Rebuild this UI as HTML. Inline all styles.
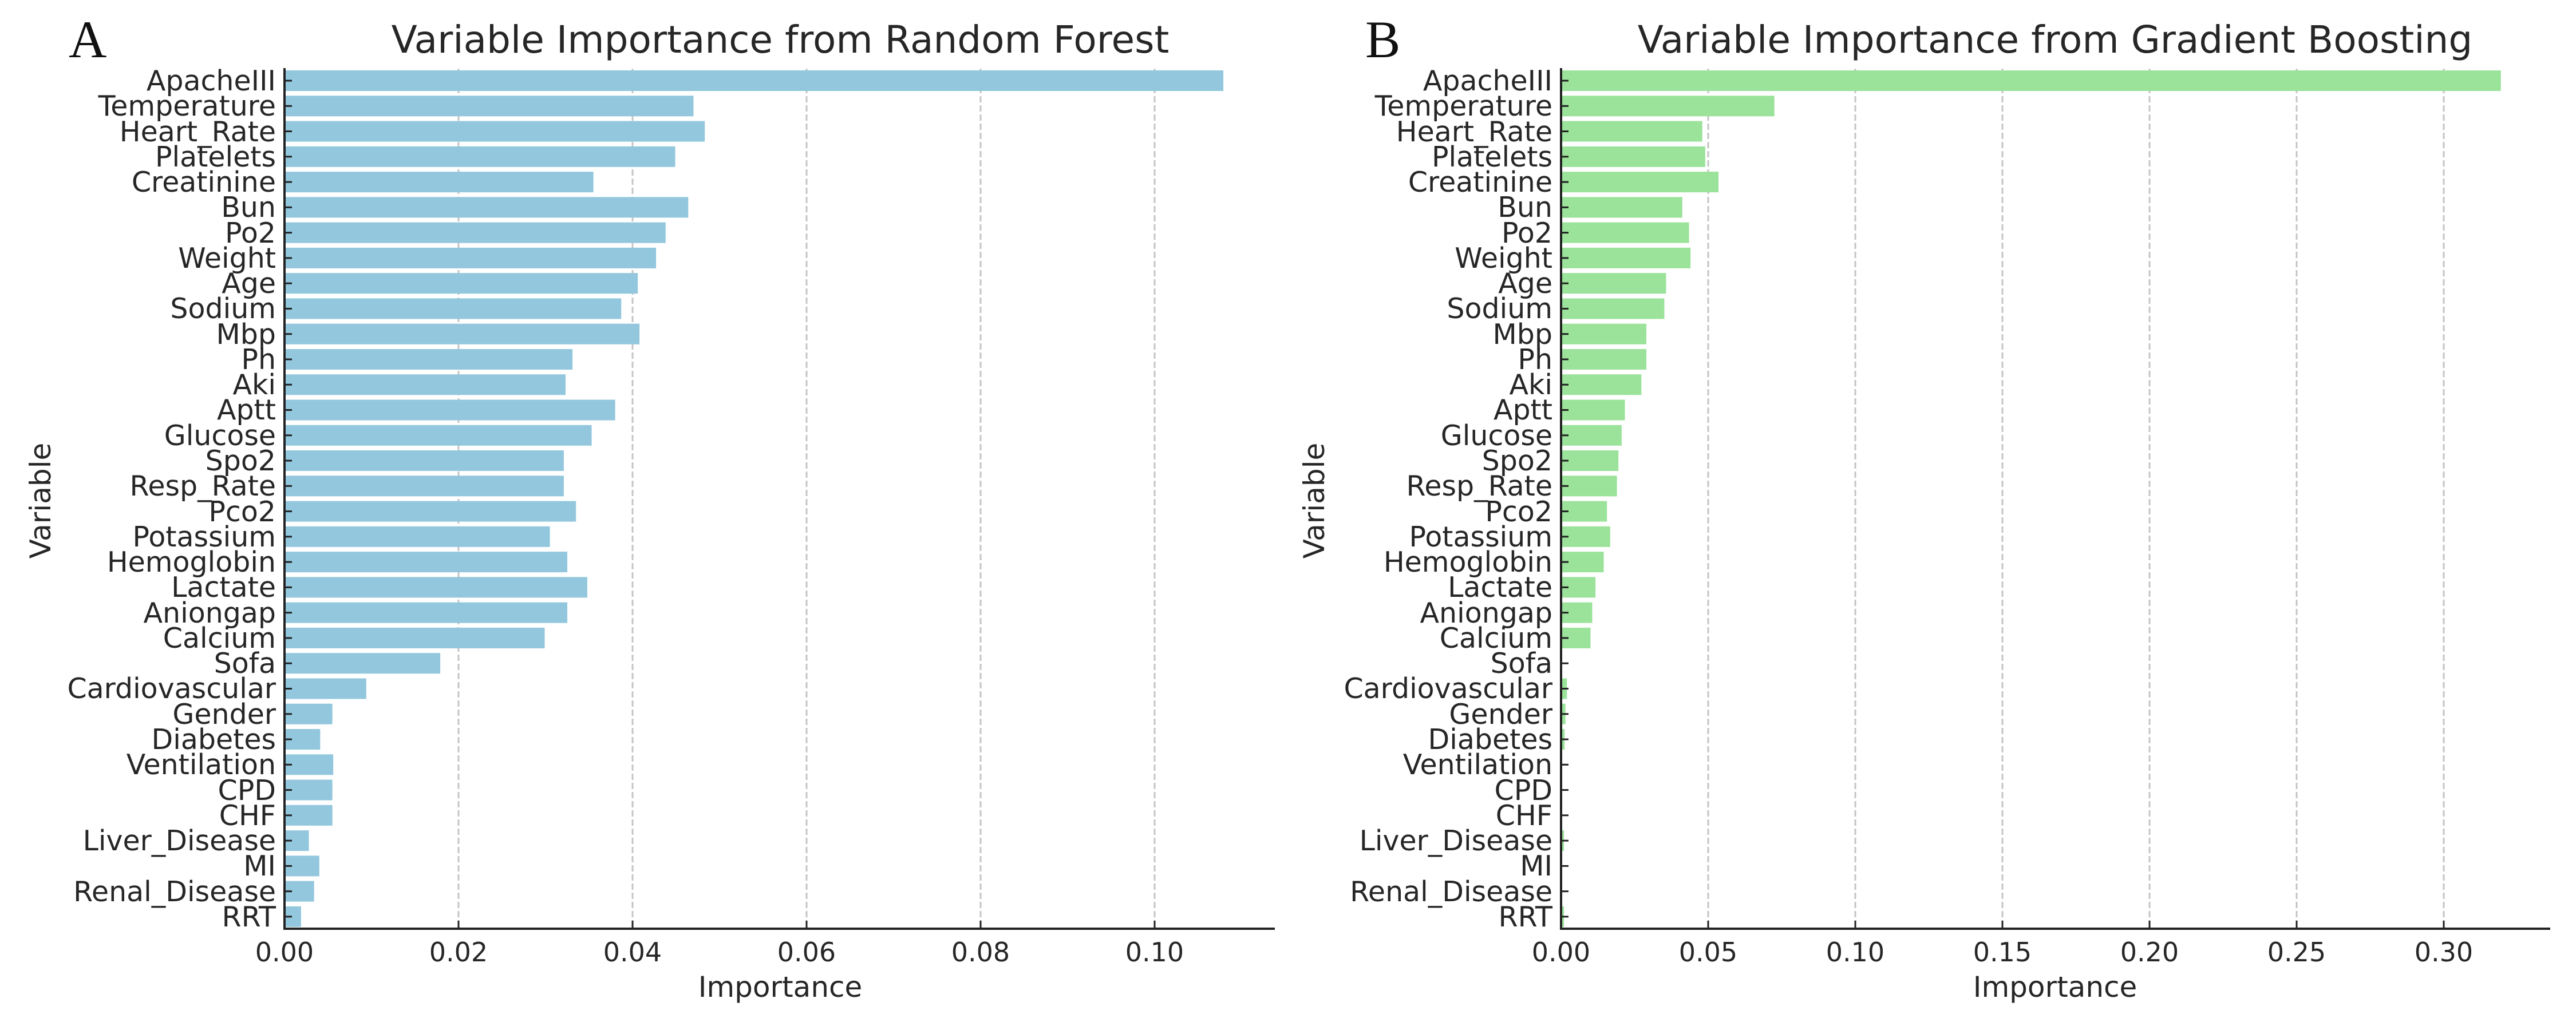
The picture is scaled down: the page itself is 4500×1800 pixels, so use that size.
<!DOCTYPE html>
<html><head><meta charset="utf-8"><style>
html,body{margin:0;padding:0;background:#fff;width:4500px;height:1800px;overflow:hidden}
svg{display:block}
text{font-family:"DejaVu Sans","Liberation Sans",sans-serif;fill:#262626}
.yl{font-size:49px;text-anchor:end}
.xl{font-size:46px;text-anchor:middle}
.t{font-size:66px;text-anchor:middle}
.al{font-size:50px;text-anchor:middle}
.p{font-family:"Liberation Serif","DejaVu Serif",serif;font-size:92px;fill:#111}
</style></head><body>
<svg id="s" width="4500" height="1800" viewBox="0 0 4500 1800" xmlns="http://www.w3.org/2000/svg">
<g id="grid"></g><g id="bars"></g><g id="axes"></g>
<text class="p" x="120" y="100">A</text>
<text class="p" x="2385" y="100">B</text>
<text class="t" x="1363" y="92">Variable Importance from Random Forest</text>
<text class="t" x="3590" y="92">Variable Importance from Gradient Boosting</text>
<text class="al" x="1363" y="1742">Importance</text>
<text class="al" x="3590" y="1742">Importance</text>
<text class="al" transform="translate(88,875) rotate(-90)" x="0" y="0">Variable</text>
<text class="al" transform="translate(2313,875) rotate(-90)" x="0" y="0">Variable</text>
<g transform="translate(0,1680)">
<text class="xl" x="497">0.00</text><text class="xl" x="801">0.02</text><text class="xl" x="1105">0.04</text><text class="xl" x="1409">0.06</text><text class="xl" x="1713">0.08</text><text class="xl" x="2017">0.10</text>
<text class="xl" x="2727">0.00</text><text class="xl" x="2984">0.05</text><text class="xl" x="3241">0.10</text><text class="xl" x="3498">0.15</text><text class="xl" x="3755">0.20</text><text class="xl" x="4012">0.25</text><text class="xl" x="4269">0.30</text>
</g>
<g transform="translate(482,17)">
<text class="yl" y="141">ApacheIII</text><text class="yl" y="185">Temperature</text><text class="yl" y="230">Heart_Rate</text><text class="yl" y="274">Platelets</text><text class="yl" y="318">Creatinine</text><text class="yl" y="362">Bun</text><text class="yl" y="407">Po2</text><text class="yl" y="451">Weight</text><text class="yl" y="495">Age</text><text class="yl" y="539">Sodium</text><text class="yl" y="584">Mbp</text><text class="yl" y="628">Ph</text><text class="yl" y="672">Aki</text><text class="yl" y="716">Aptt</text><text class="yl" y="761">Glucose</text><text class="yl" y="805">Spo2</text><text class="yl" y="849">Resp_Rate</text><text class="yl" y="894">Pco2</text><text class="yl" y="938">Potassium</text><text class="yl" y="982">Hemoglobin</text><text class="yl" y="1026">Lactate</text><text class="yl" y="1071">Aniongap</text><text class="yl" y="1115">Calcium</text><text class="yl" y="1159">Sofa</text><text class="yl" y="1203">Cardiovascular</text><text class="yl" y="1248">Gender</text><text class="yl" y="1292">Diabetes</text><text class="yl" y="1336">Ventilation</text><text class="yl" y="1381">CPD</text><text class="yl" y="1425">CHF</text><text class="yl" y="1469">Liver_Disease</text><text class="yl" y="1513">MI</text><text class="yl" y="1558">Renal_Disease</text><text class="yl" y="1602">RRT</text>
</g>
<g transform="translate(2712,17)">
<text class="yl" y="141">ApacheIII</text><text class="yl" y="185">Temperature</text><text class="yl" y="230">Heart_Rate</text><text class="yl" y="274">Platelets</text><text class="yl" y="318">Creatinine</text><text class="yl" y="362">Bun</text><text class="yl" y="407">Po2</text><text class="yl" y="451">Weight</text><text class="yl" y="495">Age</text><text class="yl" y="539">Sodium</text><text class="yl" y="584">Mbp</text><text class="yl" y="628">Ph</text><text class="yl" y="672">Aki</text><text class="yl" y="716">Aptt</text><text class="yl" y="761">Glucose</text><text class="yl" y="805">Spo2</text><text class="yl" y="849">Resp_Rate</text><text class="yl" y="894">Pco2</text><text class="yl" y="938">Potassium</text><text class="yl" y="982">Hemoglobin</text><text class="yl" y="1026">Lactate</text><text class="yl" y="1071">Aniongap</text><text class="yl" y="1115">Calcium</text><text class="yl" y="1159">Sofa</text><text class="yl" y="1203">Cardiovascular</text><text class="yl" y="1248">Gender</text><text class="yl" y="1292">Diabetes</text><text class="yl" y="1336">Ventilation</text><text class="yl" y="1381">CPD</text><text class="yl" y="1425">CHF</text><text class="yl" y="1469">Liver_Disease</text><text class="yl" y="1513">MI</text><text class="yl" y="1558">Renal_Disease</text><text class="yl" y="1602">RRT</text>
</g>
</svg>
<script>
var NS="http://www.w3.org/2000/svg";
function el(p,t,a){var e=document.createElementNS(NS,t);for(var k in a)e.setAttribute(k,a[k]);document.getElementById(p).appendChild(e);}
var rf=[0.1079,0.047,0.0483,0.0449,0.0355,0.0464,0.0438,0.0427,0.0406,0.0387,0.0408,0.0331,0.0323,0.038,0.0353,0.0321,0.0321,0.0335,0.0305,0.0325,0.0348,0.0325,0.0299,0.0179,0.0094,0.0055,0.0041,0.0056,0.0055,0.0055,0.0028,0.004,0.0034,0.0019];
var gb=[0.3194,0.0725,0.048,0.049,0.0535,0.0412,0.0435,0.044,0.0357,0.0351,0.029,0.029,0.0273,0.0217,0.0206,0.0195,0.019,0.0156,0.0167,0.0145,0.0117,0.0106,0.01,0.0003,0.002,0.0015,0.0012,0.0003,0.0002,0.0003,0.001,0.0003,0.0003,0.001];
[801,1105,1409,1713,2017,2984,3241,3498,3755,4012,4269].forEach(function(x){
 el("grid","line",{x1:x,x2:x,y1:120,y2:1622,stroke:"#c4c4c4","stroke-width":3,"stroke-dasharray":"11,5"});
 el("axes","line",{x1:x,x2:x,y1:1609,y2:1622,stroke:"#222","stroke-width":3});
});
for(var i=0;i<34;i++){var c=141+44.27*i;
 el("bars","rect",{x:497,y:c-18,width:rf[i]*15200,height:36,fill:"#92c7dd"});
 el("bars","rect",{x:2727,y:c-18,width:gb[i]*5140,height:36,fill:"#9be29b"});
 el("axes","line",{x1:497,x2:510,y1:c,y2:c,stroke:"#222","stroke-width":3});
 el("axes","line",{x1:2727,x2:2740,y1:c,y2:c,stroke:"#222","stroke-width":3});
}
el("axes","line",{x1:497,x2:497,y1:119,y2:1624,stroke:"#222","stroke-width":4});
el("axes","line",{x1:495,x2:2227,y1:1623,y2:1623,stroke:"#222","stroke-width":4});
el("axes","line",{x1:2727,x2:2727,y1:119,y2:1624,stroke:"#222","stroke-width":4});
el("axes","line",{x1:2725,x2:4455,y1:1623,y2:1623,stroke:"#222","stroke-width":4});
</script>
</body></html>
